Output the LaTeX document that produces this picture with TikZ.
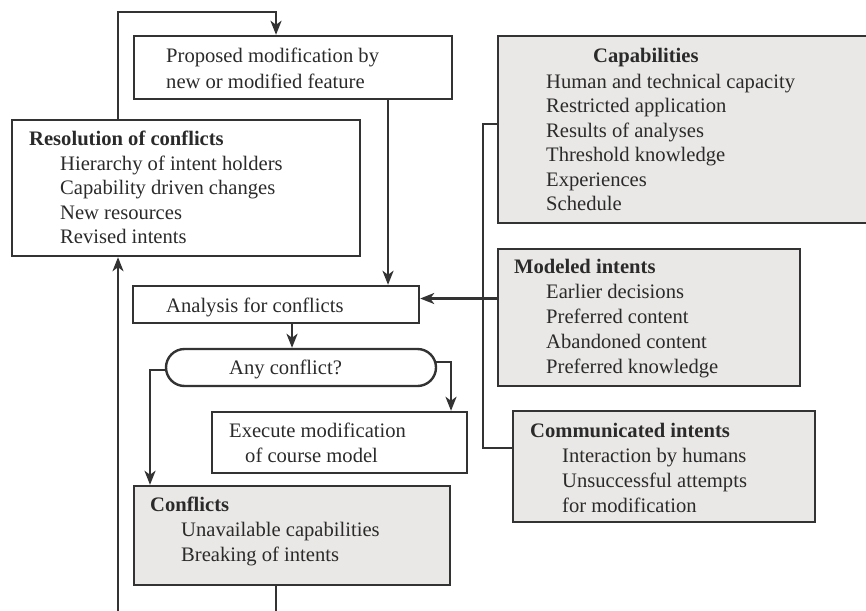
\documentclass[tikz,border=0pt]{standalone}
\usepackage{fontspec}
\setmainfont{Liberation Serif}
\usetikzlibrary{arrows.meta,calc}
\definecolor{ln}{HTML}{333333}
\definecolor{gfill}{HTML}{EAE8E6}
\definecolor{txt}{HTML}{2A2A2A}
\tikzset{
  box/.style={draw=ln,line width=2.4pt,rectangle,inner sep=0pt},
  gbox/.style={box,fill=gfill},
  lbl/.style={anchor=base west,inner sep=0pt,text=txt,font=\fontsize{20.6}{25}\selectfont},
  bold/.style={lbl,font=\fontsize{20.6}{25}\selectfont\bfseries},
  conn/.style={draw=ln,line width=2.4pt},
  arr/.style={conn,-{Stealth[length=14pt,width=11pt,inset=4pt]}}
}
\begin{document}
\begin{tikzpicture}[x=1pt,y=-1pt]
\useasboundingbox (0,0) rectangle (866,610);
\clip (0,0) rectangle (866,610);
% boxes
\node[box,minimum width=318pt,minimum height=63pt] (prop) at (293,67.5) {};
\node[box,minimum width=348pt,minimum height=136pt] (res) at (186,188) {};
\node[box,minimum width=286pt,minimum height=37pt] (ana) at (276,304.5) {};
\node[box,rounded corners=18.5pt,minimum width=270pt,minimum height=37pt] (any) at (301,367.5) {};
\node[box,minimum width=255pt,minimum height=61pt] (exec) at (339.5,442.5) {};
\node[gbox,minimum width=316pt,minimum height=99pt] (conf) at (292,535.5) {};
\node[gbox,minimum width=380pt,minimum height=187pt] (cap) at (688,129.5) {};
\node[gbox,minimum width=302pt,minimum height=137pt] (mod) at (649,317.5) {};
\node[gbox,minimum width=302pt,minimum height=111pt] (comm) at (664,466.5) {};
% texts
\node[lbl] (t1) at (166,63) {Proposed modification by};
\node[lbl] (t2) at (166,88) {new or modified feature};
\node[bold] (t3) at (29,145) {Resolution of conflicts};
\node[lbl] (t4) at (60,170) {Hierarchy of intent holders};
\node[lbl] (t5) at (60,194.5) {Capability driven changes};
\node[lbl] (t6) at (60,219) {New resources};
\node[lbl] (t7) at (60,243.5) {Revised intents};
\node[lbl] (t8) at (166,312) {Analysis for conflicts};
\node[lbl] (t9) at (229,374) {Any conflict?};
\node[lbl] (t10) at (229,437) {Execute modification};
\node[lbl] (t11) at (245,462) {of course model};
\node[bold] (t12) at (150,511) {Conflicts};
\node[lbl] (t13) at (181,536) {Unavailable capabilities};
\node[lbl] (t14) at (181,561) {Breaking of intents};
\node[bold] (t15) at (593,63) {Capabilities};
\node[lbl] (t16) at (546,88) {Human and technical capacity};
\node[lbl] (t17) at (546,112.5) {Restricted application};
\node[lbl] (t18) at (546,137) {Results of analyses};
\node[lbl] (t19) at (546,161.5) {Threshold knowledge};
\node[lbl] (t20) at (546,186) {Experiences};
\node[lbl] (t21) at (546,210.5) {Schedule};
\node[bold] (t22) at (514,273) {Modeled intents};
\node[lbl] (t23) at (546,298) {Earlier decisions};
\node[lbl] (t24) at (546,323) {Preferred content};
\node[lbl] (t25) at (546,348) {Abandoned content};
\node[lbl] (t26) at (546,373) {Preferred knowledge};
\node[bold] (t27) at (530,437) {Communicated intents};
\node[lbl] (t28) at (562,462) {Interaction by humans};
\node[lbl] (t29) at (562,487) {Unsuccessful attempts};
\node[lbl] (t30) at (562,512) {for modification};
% bend coordinates
\coordinate (k1) at (118,12);
\coordinate (k2) at (276,12);
\coordinate (k3) at (388,0);
\coordinate (k4) at (118,615);
\coordinate (k5) at (276,615);
\coordinate (k6) at (292,0);
\coordinate (k7) at (150,370);
\coordinate (k8) at (451,362);
\coordinate (k9) at (483,124);
\coordinate (k10) at (483,448);
\coordinate (k11) at (0,298.5);
% connectors
\draw[arr] (res.north -| k1) -- (k1) -- (k2) -- (prop.north -| k2);
\draw[arr] (prop.south -| k3) -- (ana.north -| k3);
\draw[arr] (k4) -- (res.south -| k4);
\draw[conn] (conf.south -| k5) -- (k5);
\draw[arr] (ana.south -| k6) -- (any.north -| k6);
\draw[arr] (any.west |- k7) -- (k7) -- (conf.north -| k7);
\draw[arr] ([xshift=-1pt]any.east |- k8) -- (k8) -- (exec.north -| k8);
\draw[conn] (cap.west |- k9) -- (k9) -- (k10) -- (comm.west |- k10);
\draw[arr] (mod.west |- k11) -- (ana.east |- k11);
\end{tikzpicture}
\end{document}
